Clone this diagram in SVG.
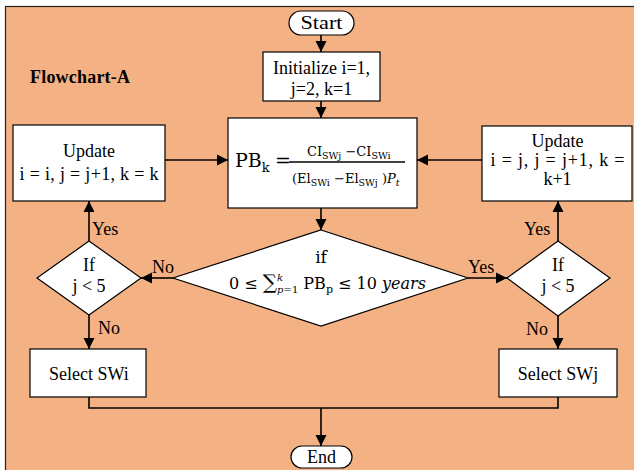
<svg xmlns="http://www.w3.org/2000/svg" width="634" height="470" viewBox="0 0 634 470" font-family="'Liberation Serif', 'Times New Roman', serif">
<style>
.t{font-family:'Liberation Serif','Times New Roman',serif;font-size:18px;text-anchor:middle;}
.s{font-family:'Liberation Serif','Times New Roman',serif;font-size:18px;}
.box{fill:#fff;stroke:#000;stroke-width:1.2;}
.ln{fill:none;stroke:#000;stroke-width:1.6;}
.m{font-family:'DejaVu Serif','Liberation Serif',serif;}
</style>
<defs>
<marker id="ah" markerUnits="userSpaceOnUse" markerWidth="12" markerHeight="12" refX="11" refY="6" orient="auto">
<path d="M0,0.5 L11,6 L0,11.5 Z" fill="#000"/>
</marker>
</defs>
<rect x="0" y="0" width="634" height="470" fill="#fff"/>
<rect x="5.5" y="6.5" width="640" height="470" fill="#F4B183" stroke="#222" stroke-width="1.2"/>
<text class="s" x="30" y="83" style="font-weight:bold;" textLength="100" lengthAdjust="spacing">Flowchart-A</text>

<g id="connectors">
<line class="ln" x1="321" y1="35" x2="321" y2="52" marker-end="url(#ah)"/>
<line class="ln" x1="321" y1="101" x2="321" y2="118" marker-end="url(#ah)"/>
<line class="ln" x1="321" y1="208" x2="321" y2="230" marker-end="url(#ah)"/>
<line class="ln" x1="173" y1="278" x2="141" y2="278" marker-end="url(#ah)"/>
<line class="ln" x1="468" y1="278" x2="507" y2="278" marker-end="url(#ah)"/>
<line class="ln" x1="89" y1="241" x2="89" y2="201" marker-end="url(#ah)"/>
<line class="ln" x1="558" y1="241" x2="558" y2="201" marker-end="url(#ah)"/>
<line class="ln" x1="165" y1="160" x2="228" y2="160" marker-end="url(#ah)"/>
<line class="ln" x1="482" y1="160" x2="417" y2="160" marker-end="url(#ah)"/>
<line class="ln" x1="89" y1="315" x2="89" y2="349" marker-end="url(#ah)"/>
<line class="ln" x1="558" y1="316" x2="558" y2="349" marker-end="url(#ah)"/>
<polyline class="ln" points="89,397 89,408 558,408 558,397"/>
<line class="ln" x1="321" y1="408" x2="321" y2="446" marker-end="url(#ah)"/>
<text class="s" x="152" y="273">No</text>
<text class="s" x="468" y="273">Yes</text>
<text class="s" x="92" y="235">Yes</text>
<text class="s" x="524" y="235">Yes</text>
<text class="s" x="98" y="334">No</text>
<text class="s" x="526" y="335">No</text>
</g>

<g id="start">
<rect class="box" x="289" y="11" width="65" height="24" rx="12"/>
<text class="t" x="321.5" y="29" textLength="42" lengthAdjust="spacingAndGlyphs">Start</text>
</g>
<g id="init">
<rect class="box" x="263" y="52" width="117" height="49"/>
<text class="t" x="321.5" y="74">Initialize i=1,</text>
<text class="t" x="321.5" y="95">j=2, k=1</text>
</g>
<g id="pb">
<rect class="box" x="228" y="118" width="189" height="90"/>
<text x="235" y="167" class="m" style="font-size:19px;">PB<tspan dy="5" style="font-size:13px;">k</tspan></text>
<text x="275" y="167" class="m" style="font-size:19px;">=</text>
<line x1="289" y1="162" x2="405" y2="162" stroke="#000" stroke-width="1.3"/>
<text x="307" y="156" class="m" style="font-size:13px;">CI<tspan dy="3" style="font-size:9.5px;">SWj</tspan><tspan dy="-3"> −CI</tspan><tspan dy="3" style="font-size:9.5px;">SWi</tspan></text>
<text x="292" y="183" class="m" style="font-size:13px;">(El<tspan dy="3" style="font-size:9.5px;">SWi</tspan><tspan dy="-3"> −El</tspan><tspan dy="3" style="font-size:9.5px;">SWj</tspan><tspan dy="-3"> )</tspan><tspan font-style="italic">P</tspan><tspan dy="3" font-style="italic" style="font-size:9.5px;">t</tspan></text>
</g>
<g id="cond">
<polygon class="box" points="321,230 468,278 321,326 173,278"/>
<text class="t m" x="321" y="263" style="font-size:17px;">if</text>
<text x="229" y="289" class="m" style="font-size:16px;">0 ≤ <tspan style="font-size:20px;">∑</tspan><tspan dy="-8" style="font-size:10px;" font-style="italic">k</tspan><tspan dx="-6" dy="12" style="font-size:10px;"><tspan font-style="italic">p</tspan>=1</tspan><tspan dy="-4"> PB</tspan><tspan dy="4" style="font-size:11px;">p</tspan><tspan dy="-4"> ≤ 10 </tspan><tspan font-style="italic">years</tspan></text>
</g>
<g id="leftDec">
<polygon class="box" points="89,241 141,278 89,315 37,278"/>
<text class="t" x="89" y="271">If</text>
<text class="t" x="89" y="292">j &lt; 5</text>
</g>
<g id="rightDec">
<polygon class="box" points="558,241 610,278 558,316 507,278"/>
<text class="t" x="558" y="271">If</text>
<text class="t" x="558" y="292">j &lt; 5</text>
</g>
<g id="leftUpdate">
<rect class="box" x="13" y="125" width="152" height="76"/>
<text class="t" x="89" y="157">Update</text>
<text class="t" x="89" y="180" textLength="139" lengthAdjust="spacing">i = i, j = j+1, k = k</text>
</g>
<g id="rightUpdate">
<rect class="box" x="482" y="126" width="150" height="75"/>
<text class="t" x="557.5" y="147">Update</text>
<text class="t" x="557.5" y="166" textLength="134" lengthAdjust="spacing">i = j, j = j+1, k =</text>
<text class="t" x="557.5" y="185">k+1</text>
</g>
<g id="selSWi">
<rect class="box" x="30" y="349" width="116" height="48"/>
<text class="t" x="89" y="380">Select SWi</text>
</g>
<g id="selSWj">
<rect class="box" x="499" y="349" width="118" height="48"/>
<text class="t" x="558" y="380">Select SWj</text>
</g>
<g id="end">
<rect class="box" x="291" y="446" width="61" height="22" rx="11"/>
<text class="t" x="321.5" y="463">End</text>
</g>
</svg>
